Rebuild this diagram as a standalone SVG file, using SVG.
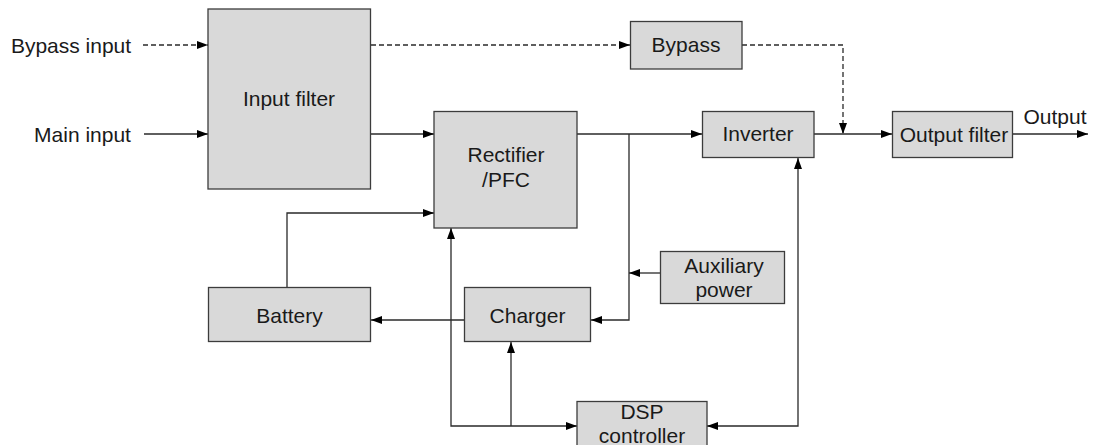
<svg xmlns="http://www.w3.org/2000/svg" width="1093" height="445" viewBox="0 0 1093 445">
<style>
.box{fill:#d9d9d9;stroke:#3c3c3c;stroke-width:1.3}
.t{font-family:"Liberation Sans",Arial,sans-serif;font-size:21px;fill:#1a1a1a;text-anchor:middle}
.l{fill:none;stroke:#2a2a2a;stroke-width:1.3}
.d{stroke-dasharray:5,3}
</style>
<defs>
<marker id="a" markerUnits="userSpaceOnUse" markerWidth="12" markerHeight="10" refX="11" refY="4" orient="auto">
<path d="M0,0 L11,4 L0,8 Z" fill="#000"/>
</marker>
<marker id="as" markerUnits="userSpaceOnUse" markerWidth="12" markerHeight="10" refX="11" refY="4" orient="auto-start-reverse">
<path d="M0,0 L11,4 L0,8 Z" fill="#000"/>
</marker>
</defs>
<g id="connectors">
<path class="l d" d="M143,45 H208" marker-end="url(#a)"/>
<path class="l" d="M144,134 H208" marker-end="url(#a)"/>
<path class="l d" d="M371,45 H630" marker-end="url(#a)"/>
<path class="l d" d="M742,45 H843 V134" marker-end="url(#a)"/>
<path class="l" d="M371,134 H434" marker-end="url(#a)"/>
<path class="l" d="M577,134 H702" marker-end="url(#a)"/>
<path class="l" d="M814,134 H892" marker-end="url(#a)"/>
<path class="l" d="M1013,134 H1088" marker-end="url(#a)"/>
<path class="l" d="M629,134 V320 H591" marker-end="url(#a)"/>
<path class="l" d="M660,273 H629" marker-end="url(#a)"/>
<path class="l" d="M464,320 H371" marker-end="url(#a)"/>
<path class="l" d="M287,288 V213 H434" marker-end="url(#a)"/>
<path class="l" d="M451,228 V426 H577" marker-start="url(#as)" marker-end="url(#a)"/>
<path class="l" d="M511,426 V342" marker-end="url(#a)"/>
<path class="l" d="M798,158 V426 H707" marker-start="url(#as)" marker-end="url(#a)"/>
</g>
<text class="t" x="71" y="53">Bypass input</text>
<text class="t" x="82.5" y="141.5">Main input</text>
<text class="t" x="1055" y="124">Output</text>
<g id="input-filter">
<rect class="box" x="208" y="9" width="162.5" height="180"/>
<text class="t" x="289" y="106">Input filter</text>
</g>
<g id="bypass">
<rect class="box" x="630.5" y="21.5" width="111.5" height="47.5"/>
<text class="t" x="686" y="52">Bypass</text>
</g>
<g id="rectifier">
<rect class="box" x="434" y="111.5" width="143" height="116.5"/>
<text class="t" x="506" y="162">Rectifier</text>
<text class="t" x="506" y="187">/PFC</text>
</g>
<g id="inverter">
<rect class="box" x="702.5" y="111.5" width="111.5" height="46"/>
<text class="t" x="758" y="141">Inverter</text>
</g>
<g id="output-filter">
<rect class="box" x="892.5" y="111.5" width="120" height="46"/>
<text class="t" x="954" y="141.5">Output filter</text>
</g>
<g id="auxiliary-power">
<rect class="box" x="660.5" y="251.5" width="124" height="52"/>
<text class="t" x="724" y="272.5">Auxiliary</text>
<text class="t" x="724" y="297">power</text>
</g>
<g id="battery">
<rect class="box" x="208.5" y="287.5" width="162" height="54"/>
<text class="t" x="289.5" y="323">Battery</text>
</g>
<g id="charger">
<rect class="box" x="464.5" y="287.5" width="126" height="54"/>
<text class="t" x="527.5" y="323">Charger</text>
</g>
<g id="dsp-controller">
<rect class="box" x="577" y="401.5" width="130" height="60"/>
<text class="t" x="642" y="419">DSP</text>
<text class="t" x="642" y="443">controller</text>
</g>
</svg>
